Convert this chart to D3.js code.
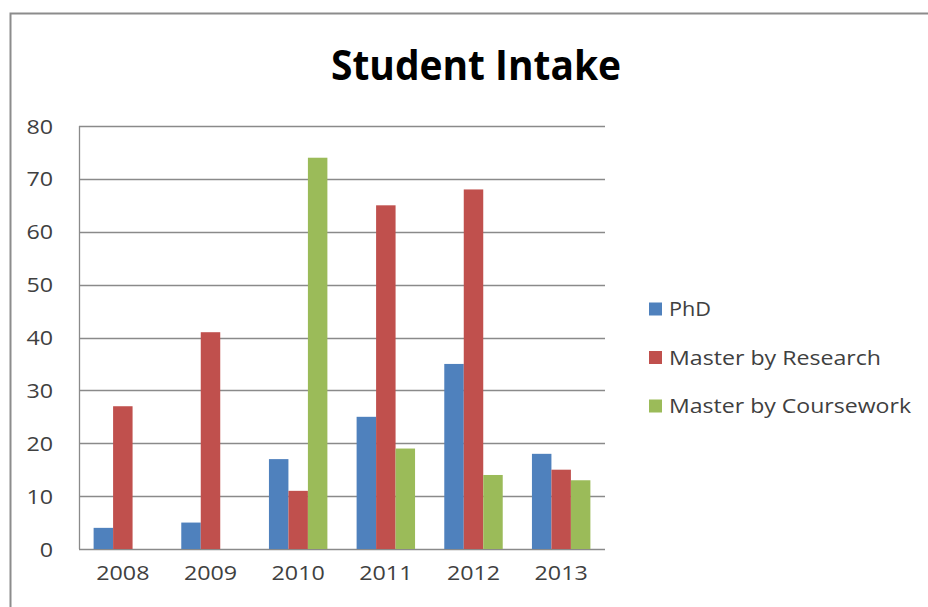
<!DOCTYPE html>
<html>
<head>
<meta charset="utf-8">
<script src="https://cdn.jsdelivr.net/npm/d3@7"></script>
<style>
  body { margin: 0; background: #fff; }
  text { font-family: "Open Sans", "Liberation Sans", sans-serif; }
</style>
</head>
<body>
<script>
// chart data
var years = ["2008", "2009", "2010", "2011", "2012", "2013"];
var seriesNames = ["PhD", "Master by Research", "Master by Coursework"];
var phd = [4, 5, 17, 25, 35, 18];
var mbr = [27, 41, 11, 65, 68, 15];
var mbc = [0, 0, 74, 19, 14, 13];
var yTicks = [0, 10, 20, 30, 40, 50, 60, 70, 80];
var colors = ["#4f81bd", "#c0504d", "#9bbb59"];

var W = 928, H = 607;
var plot = { left: 79, right: 605, top: 126, bottom: 549 };
var digitW = 13.3; // the picture is a bit stretched sideways

var svg = d3.select("body").append("svg")
  .attr("width", W).attr("height", H);

svg.append("rect").attr("width", W).attr("height", H).attr("fill", "#fff");

// outer frame (only top + left visible in the crop)
svg.append("path")
  .attr("d", "M10.5," + H + "V13.5H" + W)
  .attr("fill", "none").attr("stroke", "#8c8c8c").attr("stroke-width", 2);

// title
svg.append("text")
  .attr("x", 476).attr("y", 80)
  .attr("text-anchor", "middle")
  .attr("font-size", 42).attr("font-weight", "bold")
  .attr("fill", "#000")
  .attr("textLength", 290).attr("lengthAdjust", "spacingAndGlyphs")
  .text("Student Intake");

var y = d3.scaleLinear().domain([0, 80]).range([plot.bottom, plot.top]);
var x0 = d3.scaleBand().domain(years).range([plot.left, plot.right])
  .paddingInner(1 / 3).paddingOuter(1 / 6);
var x1 = d3.scaleBand().domain(d3.range(3)).range([0, x0.bandwidth()]);

// grid lines
svg.append("g").selectAll("line").data(yTicks).join("line")
  .attr("x1", plot.left).attr("x2", plot.right)
  .attr("y1", function(d) { return Math.round(y(d)) + 0.5; })
  .attr("y2", function(d) { return Math.round(y(d)) + 0.5; })
  .attr("stroke", "#8a8a8a").attr("stroke-width", 1.3);

// y axis line
svg.append("line")
  .attr("x1", plot.left + 0.5).attr("x2", plot.left + 0.5)
  .attr("y1", y(80)).attr("y2", y(0))
  .attr("stroke", "#8a8a8a").attr("stroke-width", 1.3);

// y axis labels
var yAxis = d3.axisLeft(y).tickValues(yTicks).tickSize(0).tickPadding(26);
var gy = svg.append("g").attr("transform", "translate(" + plot.left + ",0)").call(yAxis);
gy.select(".domain").remove();
gy.selectAll("text")
  .attr("font-size", 20).attr("fill", "#404040")
  .attr("font-family", "Open Sans, Liberation Sans, sans-serif")
  .attr("dy", "0.35em")
  .attr("textLength", function(d) { return String(d).length * digitW; })
  .attr("lengthAdjust", "spacingAndGlyphs");

// x axis labels
var xAxis = d3.axisBottom(x0).tickSize(0).tickPadding(24);
var gx = svg.append("g").attr("transform", "translate(0," + plot.bottom + ")").call(xAxis);
gx.select(".domain").remove();
gx.selectAll("text")
  .attr("font-size", 20).attr("fill", "#404040")
  .attr("font-family", "Open Sans, Liberation Sans, sans-serif")
  .attr("dy", "0.35em")
  .attr("textLength", function(d) { return d.length * digitW; })
  .attr("lengthAdjust", "spacingAndGlyphs");

// bars
var allSeries = [phd, mbr, mbc];
var barData = [];
years.forEach(function(yr, i) {
  allSeries.forEach(function(s, k) {
    barData.push({ year: yr, k: k, value: s[i] });
  });
});

svg.append("g").selectAll("rect").data(barData).join("rect")
  .attr("x", function(d) { return x0(d.year) + x1(d.k); })
  .attr("width", x1.bandwidth())
  .attr("y", function(d) { return y(d.value); })
  .attr("height", function(d) { return y(0) - y(d.value); })
  .attr("fill", function(d) { return colors[d.k]; });

// legend
var legendWidths = [42, 212, 242];
var legend = svg.append("g").selectAll("g").data(seriesNames).join("g")
  .attr("transform", function(d, i) { return "translate(649," + (309 + i * 48.5) + ")"; });
legend.append("rect")
  .attr("x", 0).attr("y", -6.5).attr("width", 13).attr("height", 13)
  .attr("fill", function(d, i) { return colors[i]; });
legend.append("text")
  .attr("x", 20).attr("y", 0).attr("dy", "0.35em")
  .attr("font-size", 20).attr("fill", "#404040")
  .attr("textLength", function(d, i) { return legendWidths[i]; })
  .attr("lengthAdjust", "spacingAndGlyphs")
  .text(function(d) { return d; });
</script>
</body>
</html>
